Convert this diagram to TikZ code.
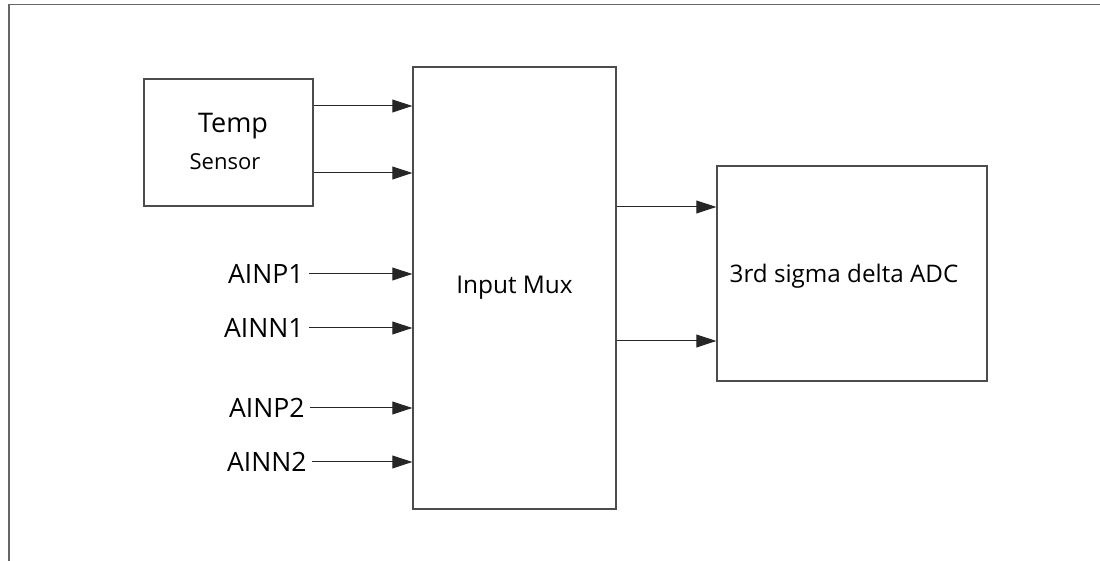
\documentclass[tikz,border=0pt]{standalone}
\usepackage{fontspec}
\setmainfont{Open Sans}
\usetikzlibrary{arrows.meta,positioning,calc}

\begin{document}
\begin{tikzpicture}[x=0.5pt,y=-0.5pt,
    blk/.style={draw=black!70,line width=0.7pt,inner sep=0pt},
    sig/.style={-{Triangle[length=10pt,width=6.5pt]},line width=0.5pt,black!85},
    pin/.style={anchor=east,inner sep=0pt,font=\fontsize{13.3}{15}\selectfont}]
  \useasboundingbox (0,0) rectangle (1100,561);
  \draw[black!60,line width=0.75pt] (9,561) -- (9,4.5) -- (1100,4.5); % 外枠（左と上）
  \node[blk,minimum width=84.5pt,minimum height=63.5pt] (sensor) at (228.5,142.5) {}; % 温度センサ
  \node[font=\fontsize{13.5}{15}\selectfont] (temp) at (233,126) {Temp};
  \node[font=\fontsize{11}{13}\selectfont] (sens) at (225,162) {Sensor};
  \node[blk,minimum width=101.5pt,minimum height=221pt,font=\fontsize{12.2}{14}\selectfont] (mux) at (514.5,288) {Input Mux}; % 入力マルチプレクサ
  \node[blk,minimum width=135pt,minimum height=107.5pt] (adc) at (852,273.5) {}; % ADC
  \node[font=\fontsize{12.1}{14}\selectfont] (adclbl) at (844,276) {3rd sigma delta ADC};
  \coordinate (s1) at (sensor.east |- 0,106);
  \coordinate (s2) at (sensor.east |- 0,173);
  \draw[sig] (s1) -- (s1 -| mux.west); % センサ出力（上）
  \draw[sig] (s2) -- (s2 -| mux.west); % センサ出力（下）
  \node[pin] (ainp1) at (304,274) {AINP1};
  \node[pin] (ainn1) at (304,328) {AINN1};
  \node[pin] (ainp2) at (305,408) {AINP2};
  \node[pin] (ainn2) at (307,462) {AINN2};
  \foreach \p in {ainp1,ainn1,ainp2,ainn2}
    \draw[sig] ($(\p.east)+(5,0)$) -- (\p.east -| mux.west); % アナログ入力
  \coordinate (m1) at (mux.east |- 0,207);
  \coordinate (m2) at (mux.east |- 0,341);
  \draw[sig] (m1) -- (m1 -| adc.west); % ADC への出力（上）
  \draw[sig] (m2) -- (m2 -| adc.west); % ADC への出力（下）
\end{tikzpicture}
\end{document}
